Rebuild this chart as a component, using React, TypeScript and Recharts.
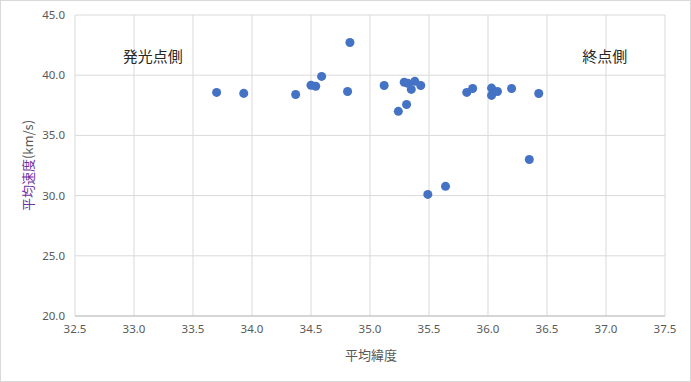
import * as React from "react";
import { ScatterChart, Scatter, XAxis, YAxis, ZAxis, CartesianGrid, ReferenceDot, Label } from "recharts";

// 平均緯度 (deg) and 平均速度 (km/s) per meteor
const latitudes = [
	33.70, 33.93, 34.37, 34.50, 34.54, 34.59, 34.81, 34.83,
	35.12, 35.24, 35.29, 35.32, 35.31, 35.35, 35.38, 35.43,
	35.49, 35.64, 35.82, 35.87, 36.03, 36.03, 36.08, 36.20,
	36.35, 36.43,
];
const speeds = [
	38.57, 38.49, 38.40, 39.16, 39.08, 39.90, 38.65, 42.72,
	39.15, 37.00, 39.41, 39.33, 37.57, 38.82, 39.49, 39.15,
	30.10, 30.77, 38.57, 38.90, 38.93, 38.32, 38.65, 38.90,
	33.00, 38.48,
];

const xTicks = [32.5, 33.0, 33.5, 34.0, 34.5, 35.0, 35.5, 36.0, 36.5, 37.0, 37.5];
const yTicks = [20, 25, 30, 35, 40, 45];

// text boxes placed in data space
const notes = [
	{ text: "発光点側", x: 33.16, y: 41.55 },
	{ text: "終点側", x: 36.99, y: 41.55 },
];

const data = latitudes.map((lat, i) => ({ lat, speed: speeds[i] }));

const tickStyle = { fill: "#595959", fontSize: 11.5, fontFamily: "'Noto Sans', sans-serif" };
const cjk = "'Noto Sans CJK JP', sans-serif";

const YTitle = (props: any) => {
	const vb = props.viewBox;
	const cx = 27;
	const cy = vb.y + vb.height / 2;
	return (
		<text
			x={cx}
			y={cy}
			transform={`rotate(-90 ${cx} ${cy})`}
			textAnchor="middle"
			dominantBaseline="central"
			fontSize={13}
			fontFamily={cjk}
		>
			<tspan fill="#7030A0">平均速度</tspan>
			<tspan fill="#595959">(km/s)</tspan>
		</text>
	);
};

const XTitle = (props: any) => {
	const vb = props.viewBox;
	return (
		<text
			x={vb.x + vb.width / 2 + 1}
			y={vb.y + 38}
			textAnchor="middle"
			dominantBaseline="central"
			fontSize={13}
			fontFamily={cjk}
			fill="#595959"
		>
			平均緯度
		</text>
	);
};

const App: React.FC = () => {
	return <div style={{ position: "absolute", left: 0, top: 0, width: 691, height: 382, boxSizing: "border-box", border: "1px solid #d9d9d9", background: "#fff" }}>
		<div style={{ position: "absolute", left: -1, top: -1 }}>
			<ScatterChart
				width={691}
				height={382}
				margin={{ top: 15, right: 26, bottom: 26, left: 0 }}
			>
				<CartesianGrid stroke="#d9d9d9" />
				<XAxis
					type="number"
					dataKey="lat"
					domain={[32.5, 37.5]}
					ticks={xTicks}
					height={40}
					tickLine={false}
					tickSize={6}
					tickMargin={3}
					stroke="#bfbfbf"
					tick={tickStyle}
					tickFormatter={(v) => v.toFixed(1)}
				>
					<Label content={XTitle} />
				</XAxis>
				<YAxis
					type="number"
					dataKey="speed"
					domain={[20, 45]}
					ticks={yTicks}
					width={75}
					axisLine={false}
					tickLine={false}
					tickSize={6}
					tickMargin={4}
					tick={tickStyle}
					tickFormatter={(v) => v.toFixed(1)}
				>
					<Label content={YTitle} />
				</YAxis>
				<ZAxis range={[42, 42]} />
				<Scatter data={data} fill="#4472C4" shape="circle" isAnimationActive={false} />
				{notes.map((n) => (
					<ReferenceDot
						key={n.text}
						x={n.x}
						y={n.y}
						r={0}
						fill="none"
						stroke="none"
						label={{ value: n.text, position: "center", fill: "#262626", fontSize: 15, fontFamily: cjk }}
					/>
				))}
			</ScatterChart>
		</div>
	</div>
}

export default App;
